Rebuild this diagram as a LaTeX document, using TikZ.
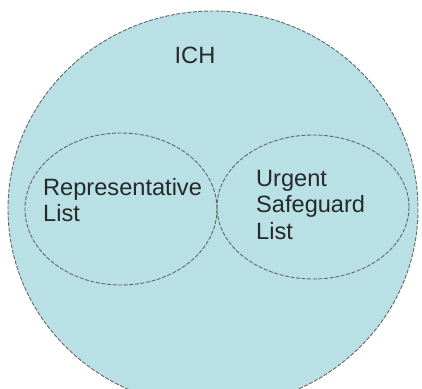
\documentclass[tikz,border=0pt]{standalone}
\usepackage{fontspec}
\setmainfont{Liberation Sans}
\definecolor{ichblue}{HTML}{B9E0E4}
\definecolor{rim}{HTML}{626869}
\definecolor{ink}{HTML}{252929}
\tikzset{
  rimline/.style={draw=rim,line width=0.9pt,dash pattern=on 4pt off 1.6pt},
  lbl/.style={inner sep=0pt,text=ink,align=left,font=\fontsize{23.6}{26.5}\selectfont}
}
\begin{document}
\begin{tikzpicture}[x=1pt,y=-1pt]
            \useasboundingbox (0,0) rectangle (422,388);
            \clip (0,0) rectangle (422,388);
            \fill [white](0,0) rectangle (422,388);
            \filldraw [rimline,fill=ichblue](213,209) ellipse [x radius=205,y radius=198];
            \draw [rimline](121,209) ellipse [x radius=96,y radius=76];
            \draw [rimline](313,207) ellipse [x radius=96,y radius=72];
            \node [lbl,anchor=north] (ich) at (195,47) {ICH};
            \node [lbl,anchor=north west] (rep) at (43,178) {Representative\\List};
            \node [lbl,anchor=north west] (usl) at (256,170) {Urgent\\Safeguard\\List};
        \end{tikzpicture}
\end{document}
